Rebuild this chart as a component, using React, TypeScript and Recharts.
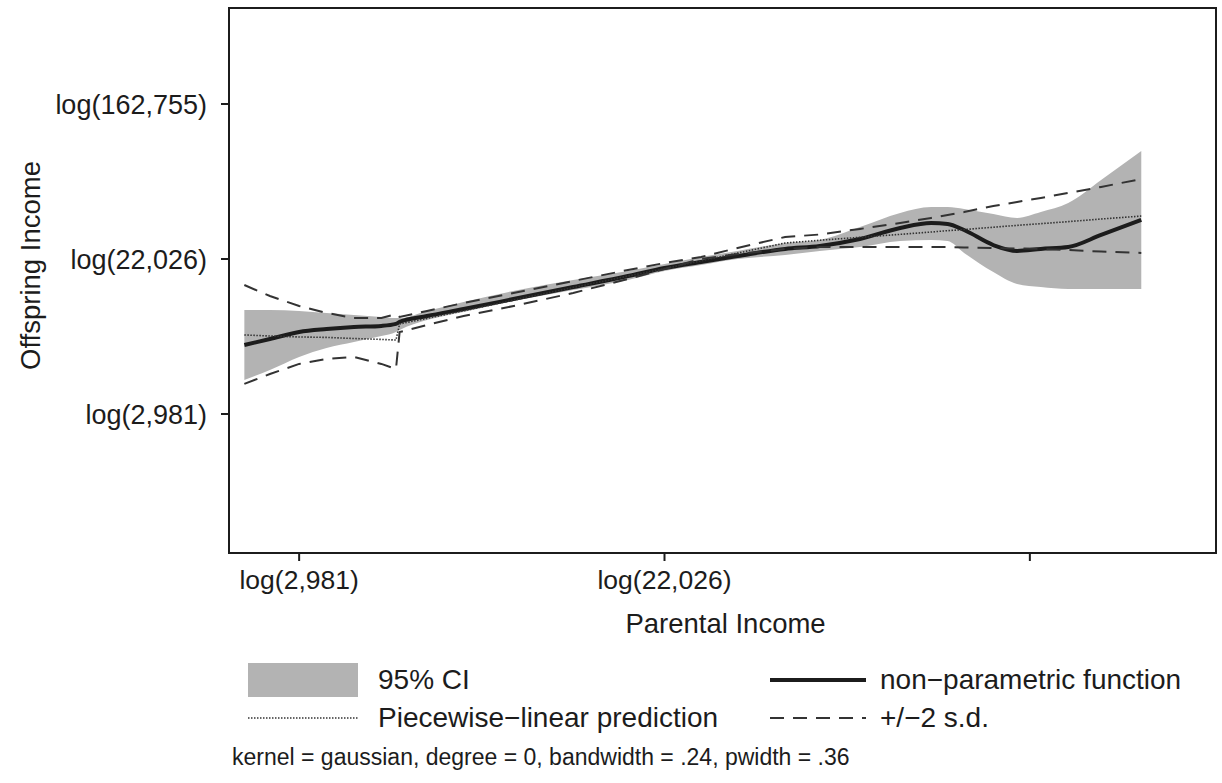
import React from 'react';
import { ComposedChart, Area, Line, XAxis, YAxis, ReferenceArea, Label } from 'recharts';

// log parental income (x) at the points where the curves were read
const parentLog = [7.7, 7.84, 8.0, 8.15, 8.3, 8.45, 8.53, 8.55, 8.7, 8.9, 9.2, 9.5, 9.8, 10.0, 10.2, 10.4, 10.66, 10.85, 11.07, 11.29, 11.46, 11.55, 11.64, 11.8, 11.93, 12.06, 12.21, 12.39, 12.61];

const nonParam = [8.89, 8.968, 9.058, 9.096, 9.122, 9.136, 9.162, 9.188, 9.264, 9.354, 9.496, 9.638, 9.78, 9.884, 9.962, 10.038, 10.13, 10.168, 10.258, 10.4, 10.464, 10.452, 10.374, 10.18, 10.104, 10.13, 10.154, 10.31, 10.504];
const ciHigh = [9.342, 9.342, 9.33, 9.304, 9.278, 9.252, 9.238, 9.238, 9.33, 9.446, 9.6, 9.73, 9.846, 9.936, 10.026, 10.104, 10.206, 10.246, 10.412, 10.594, 10.67, 10.67, 10.646, 10.58, 10.53, 10.606, 10.722, 11.02, 11.394];
const ciLow = [8.438, 8.568, 8.736, 8.852, 8.93, 9.006, 9.058, 9.084, 9.212, 9.316, 9.47, 9.6, 9.73, 9.846, 9.922, 10.0, 10.052, 10.104, 10.154, 10.232, 10.246, 10.232, 10.078, 9.832, 9.678, 9.638, 9.612, 9.612, 9.612];
const piecewise = [9.02, 9.006, 8.994, 8.988, 8.974, 8.962, 8.954, 9.162, 9.234, 9.332, 9.482, 9.632, 9.78, 9.876, 9.976, 10.076, 10.206, 10.242, 10.28, 10.318, 10.348, 10.366, 10.38, 10.41, 10.434, 10.456, 10.482, 10.516, 10.554];
const sdHigh = [9.664, 9.522, 9.394, 9.304, 9.238, 9.238, 9.29, 9.252, 9.33, 9.432, 9.574, 9.716, 9.858, 9.948, 10.026, 10.142, 10.284, 10.316, 10.388, 10.464, 10.53, 10.568, 10.606, 10.684, 10.736, 10.788, 10.852, 10.93, 11.032];
const sdLow = [8.388, 8.516, 8.646, 8.71, 8.736, 8.646, 8.58, 9.058, 9.148, 9.264, 9.406, 9.562, 9.742, 9.87, 10.0, 10.064, 10.13, 10.154, 10.154, 10.154, 10.154, 10.154, 10.148, 10.142, 10.136, 10.13, 10.116, 10.096, 10.078];

const xTicks = [8, 10, 12];
const xTickLabels = ['log(2,981)', 'log(22,026)', ''];
const yTicks = [8, 10, 12];
const yTickLabels = ['log(2,981)', 'log(22,026)', 'log(162,755)'];

const X_DOMAIN = [7.616, 13.019];
const Y_DOMAIN = [6.206, 13.239];

const FONT = '"Liberation Sans", Arial, Helvetica, sans-serif';
const INK = '#1c1c1c';
const BAND = '#b3b3b3';

const data = parentLog.map((x, i) => ({
  x,
  npf: nonParam[i],
  ci: [ciLow[i], ciHigh[i]],
  pl: piecewise[i],
  sdHi: sdHigh[i],
  sdLo: sdLow[i],
}));

const labelFor = (ticks: number[], labels: string[]) => (v: number) => {
  const i = ticks.indexOf(v);
  return i >= 0 ? labels[i] : '';
};

const XTitle = (props: any) => {
  const vb = props.viewBox || {};
  return (
    <text x={vb.x + vb.width / 2 + 3} y={vb.y + 80} textAnchor="middle" fontFamily={FONT} fontSize={27.5} fill={INK}>
      Parental Income
    </text>
  );
};

const YTitle = (props: any) => {
  const vb = props.viewBox || {};
  const cx = 30;
  const cy = vb.y + vb.height / 2 - 15;
  return (
    <text
      x={cx}
      y={cy}
      transform={`rotate(-90, ${cx}, ${cy})`}
      textAnchor="middle"
      dominantBaseline="central"
      fontFamily={FONT}
      fontSize={27.5}
      fill={INK}
    >
      Offspring Income
    </text>
  );
};

const textStyle: React.CSSProperties = {
  position: 'absolute',
  fontFamily: FONT,
  fontSize: 28,
  color: INK,
  lineHeight: '30px',
  whiteSpace: 'nowrap',
};

export default function App() {
  return (
    <div style={{ position: 'absolute', left: 0, top: 0, width: 1222, height: 783, background: '#fff' }}>
      <ComposedChart width={1222} height={783} data={data} margin={{ top: 8, right: 6, left: 0, bottom: 170 }}>
        <XAxis
          dataKey="x"
          type="number"
          domain={X_DOMAIN}
          ticks={xTicks}
          tickFormatter={labelFor(xTicks, xTickLabels)}
          allowDataOverflow
          height={60}
          tickSize={8}
          tickMargin={9}
          stroke={INK}
          strokeWidth={2}
          tick={{ fontFamily: FONT, fontSize: 26.5, fill: INK }}
        >
          <Label content={<XTitle />} />
        </XAxis>
        <YAxis
          type="number"
          domain={Y_DOMAIN}
          ticks={yTicks}
          tickFormatter={labelFor(yTicks, yTickLabels)}
          allowDataOverflow
          width={229}
          tickSize={8}
          tickMargin={14}
          stroke={INK}
          strokeWidth={2}
          tick={{ fontFamily: FONT, fontSize: 27, fill: INK }}
        >
          <Label content={<YTitle />} />
        </YAxis>
        <Area
          type="monotone"
          dataKey="ci"
          stroke="none"
          fill={BAND}
          fillOpacity={1}
          isAnimationActive={false}
          activeDot={false}
        />
        <Line
          type="monotone"
          dataKey="npf"
          stroke={INK}
          strokeWidth={4}
          dot={false}
          activeDot={false}
          isAnimationActive={false}
        />
        <Line
          type="linear"
          dataKey="pl"
          stroke="#333"
          strokeWidth={1.6}
          strokeDasharray="1.5 1.5"
          dot={false}
          activeDot={false}
          isAnimationActive={false}
        />
        <Line
          type="linear"
          dataKey="sdHi"
          stroke="#333"
          strokeWidth={2}
          strokeDasharray="14 9"
          dot={false}
          activeDot={false}
          isAnimationActive={false}
        />
        <Line
          type="linear"
          dataKey="sdLo"
          stroke="#333"
          strokeWidth={2}
          strokeDasharray="14 9"
          dot={false}
          activeDot={false}
          isAnimationActive={false}
        />
        <ReferenceArea
          x1={X_DOMAIN[0]}
          x2={X_DOMAIN[1]}
          y1={Y_DOMAIN[0]}
          y2={Y_DOMAIN[1]}
          fill="none"
          stroke={INK}
          strokeWidth={2}
          ifOverflow="visible"
        />
      </ComposedChart>

      {/* legend */}
      <div style={{ position: 'absolute', left: 248, top: 663, width: 110, height: 34, background: BAND }} />
      <div style={{ ...textStyle, left: 378, top: 665 }}>95% CI</div>
      <svg style={{ position: 'absolute', left: 248, top: 710 }} width={110} height={16}>
        <line x1={0} y1={8} x2={110} y2={8} stroke="#333" strokeWidth={1.6} strokeDasharray="1.5 1.5" />
      </svg>
      <div style={{ ...textStyle, left: 378, top: 703 }}>Piecewise−linear prediction</div>
      <svg style={{ position: 'absolute', left: 770, top: 672 }} width={96} height={16}>
        <line x1={0} y1={8} x2={96} y2={8} stroke={INK} strokeWidth={4} />
      </svg>
      <div style={{ ...textStyle, left: 880, top: 665 }}>non−parametric function</div>
      <svg style={{ position: 'absolute', left: 770, top: 710 }} width={96} height={16}>
        <line x1={0} y1={8} x2={96} y2={8} stroke="#333" strokeWidth={2} strokeDasharray="14 9" />
      </svg>
      <div style={{ ...textStyle, left: 880, top: 703 }}>+/−2 s.d.</div>
      <div style={{ ...textStyle, left: 232, top: 745, fontSize: 23, lineHeight: '24px' }}>
        kernel = gaussian, degree = 0, bandwidth = .24, pwidth = .36
      </div>
    </div>
  );
}
